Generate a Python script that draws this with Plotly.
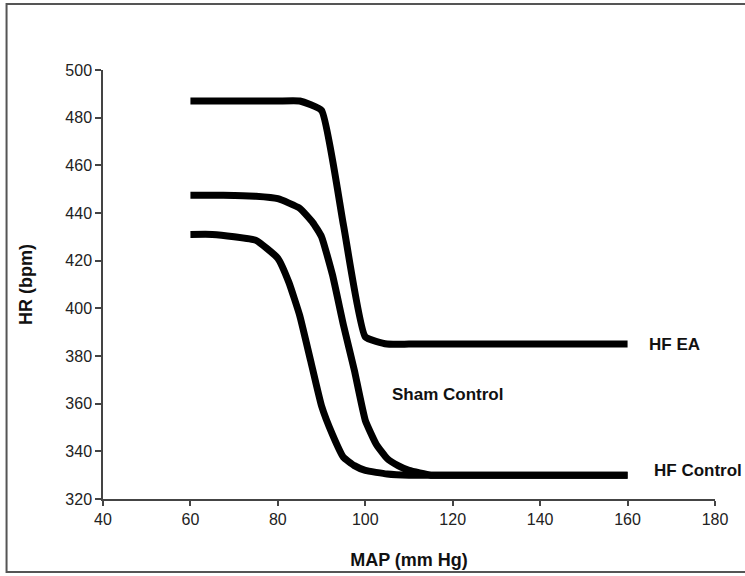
import plotly.graph_objects as go

# Data
hf_ea_map = [60, 70, 80, 85, 90, 95, 100, 105, 110, 120, 130, 140, 150, 160]
hf_ea_hr = [487, 487, 487, 487, 483, 435, 388, 385, 385, 385, 385, 385, 385, 385]

sham_map = [60, 65, 70, 75, 80, 85, 88, 90, 92.5, 95, 97.5, 100, 102.5, 105, 107.5, 110, 115, 120, 140, 160]
sham_hr = [447.5, 447.5, 447.3, 447, 446, 442, 436, 430, 414, 393, 374, 353, 343, 337, 334, 332, 330, 330, 330, 330]

hf_ctrl_map = [60, 65, 70, 75, 80, 82.5, 85, 87.5, 90, 92.5, 95, 97.5, 100, 105, 110, 120, 140, 160]
hf_ctrl_hr = [431, 431, 430, 428.5, 421, 411, 397, 378, 359, 347, 337.5, 334, 332, 330.5, 330, 330, 330, 330]

x_ticks = [40, 60, 80, 100, 120, 140, 160, 180]
y_ticks = [320, 340, 360, 380, 400, 420, 440, 460, 480, 500]

labels = ["HF EA", "Sham Control", "HF Control"]
label_x = [164.4, 105.7, 165.7]
label_y = [385, 364, 332]

fig = go.Figure()
for xs, ys, name in [(hf_ea_map, hf_ea_hr, labels[0]),
                     (sham_map, sham_hr, labels[1]),
                     (hf_ctrl_map, hf_ctrl_hr, labels[2])]:
    fig.add_trace(go.Scatter(x=xs, y=ys, mode="lines", name=name,
                             line=dict(color="black", width=7, shape="spline", smoothing=0.4),
                             showlegend=False, hoverinfo="skip"))

for t, x, y in zip(labels, label_x, label_y):
    fig.add_annotation(x=x, y=y, xref="x", yref="y", text="<b>%s</b>" % t,
                       showarrow=False, xanchor="left", yanchor="middle",
                       font=dict(family="Liberation Sans, Arial", size=17, color="#111"))

# outer frame
fig.add_shape(type="rect", xref="paper", yref="paper",
              x0=-0.1576, x1=1.1, y0=-0.170, y1=1.154,
              line=dict(color="#555", width=2), fillcolor="rgba(0,0,0,0)", layer="below")

axis_font = dict(family="Liberation Sans, Arial", size=16, color="#222")
fig.update_layout(
    width=745, height=576,
    margin=dict(l=102.5, r=30, t=70, b=77, autoexpand=False),
    paper_bgcolor="white", plot_bgcolor="white",
    xaxis=dict(range=[40, 180], tickvals=x_ticks, ticktext=[str(v) for v in x_ticks],
               automargin=False,
               showgrid=False, zeroline=False, showline=True, linecolor="#444", linewidth=1.5,
               ticks="outside", ticklen=5, tickcolor="#444", tickwidth=1.5,
               tickfont=axis_font,
               title=dict(text="<b>MAP (mm Hg)</b>", standoff=26,
                          font=dict(family="Liberation Sans, Arial", size=18, color="#111"))),
    yaxis=dict(range=[320, 500], tickvals=y_ticks, ticktext=[str(v) for v in y_ticks],
               automargin=False,
               showgrid=False, zeroline=False, showline=True, linecolor="#444", linewidth=1.5,
               ticks="outside", ticklen=6, tickcolor="#444", tickwidth=1.5,
               tickfont=axis_font,
               title=dict(text="<b>HR (bpm)</b>", standoff=28,
                          font=dict(family="Liberation Sans, Arial", size=18, color="#111"))),
)

fig.write_html("out.html")
